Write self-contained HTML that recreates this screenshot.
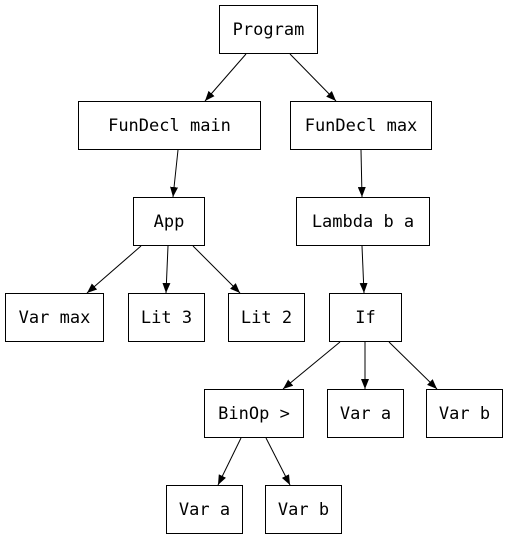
<!DOCTYPE html>
<html><head><meta charset="utf-8"><style>
html,body{margin:0;padding:0;background:#fff;}
svg text{font-family:"DejaVu Sans Mono","Liberation Mono",monospace;font-size:17px;fill:#000;}
</style></head><body>
<svg width="509" height="539" viewBox="0 0 509 539" xmlns="http://www.w3.org/2000/svg">
<defs><marker id="a" markerWidth="10" markerHeight="8" refX="10" refY="4" orient="auto" markerUnits="userSpaceOnUse"><path d="M0,0 L10,4 L0,8 z" fill="#000"/></marker></defs>
<g fill="#fff" stroke="#000" stroke-width="1">
<rect x="219.5" y="5.5" width="98" height="48"/>
<rect x="78.5" y="101.5" width="182" height="48"/>
<rect x="290.5" y="101.5" width="141" height="48"/>
<rect x="133.5" y="197.5" width="71" height="48"/>
<rect x="296.5" y="197.5" width="133" height="48"/>
<rect x="5.5" y="293.5" width="98" height="48"/>
<rect x="128.5" y="293.5" width="76" height="48"/>
<rect x="228.5" y="293.5" width="76" height="48"/>
<rect x="329.5" y="293.5" width="72" height="48"/>
<rect x="204.5" y="389.5" width="99" height="48"/>
<rect x="327.5" y="389.5" width="76" height="48"/>
<rect x="426.5" y="389.5" width="76" height="48"/>
<rect x="166.5" y="485.5" width="76" height="48"/>
<rect x="265.5" y="485.5" width="76" height="48"/>
</g>
<g stroke="#000" stroke-width="1" marker-end="url(#a)">
<line x1="246" y1="54" x2="205" y2="101"/>
<line x1="290" y1="54" x2="336" y2="101"/>
<line x1="178" y1="150" x2="173" y2="197"/>
<line x1="361" y1="150" x2="362" y2="197"/>
<line x1="141" y1="246" x2="87" y2="293"/>
<line x1="168" y1="246" x2="166" y2="293"/>
<line x1="193" y1="246" x2="240" y2="293"/>
<line x1="362" y1="246" x2="364" y2="293"/>
<line x1="340" y1="342" x2="283" y2="389"/>
<line x1="365" y1="342" x2="365" y2="389"/>
<line x1="389" y1="342" x2="437" y2="389"/>
<line x1="241" y1="438" x2="218" y2="485"/>
<line x1="266" y1="438" x2="290" y2="485"/>
</g>
<g text-anchor="middle">
<text x="268.5" y="35">Program</text>
<text x="169.5" y="131">FunDecl main</text>
<text x="361" y="131">FunDecl max</text>
<text x="169" y="227">App</text>
<text x="363" y="227">Lambda b a</text>
<text x="54.5" y="323">Var max</text>
<text x="166.5" y="323">Lit 3</text>
<text x="266.5" y="323">Lit 2</text>
<text x="365.5" y="323">If</text>
<text x="254" y="419">BinOp &gt;</text>
<text x="365.5" y="419">Var a</text>
<text x="464.5" y="419">Var b</text>
<text x="204.5" y="515">Var a</text>
<text x="303.5" y="515">Var b</text>
</g>
</svg>
</body></html>
